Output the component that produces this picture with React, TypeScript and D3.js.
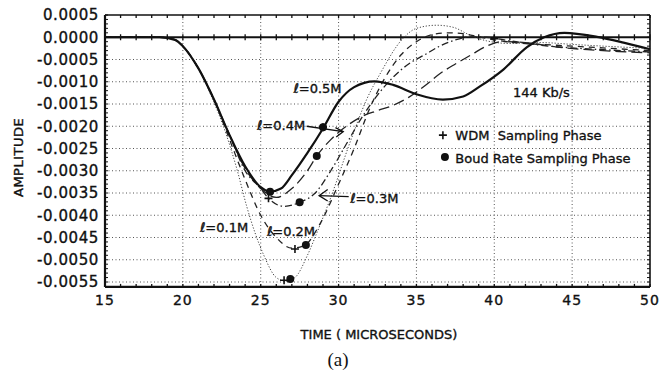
import * as d3 from 'd3'

// amplitude responses, [time (us), amplitude]
const l01: [number, number][] = [[15,0],[18.5,0],[19.5,-0.00006],[20,-0.0002],[21,-0.0007],[21.8,-0.0013],[22.8,-0.0022],[23.5,-0.003],[24.1,-0.0038],[25.2,-0.0049],[26,-0.0054],[26.6,-0.00548],[27.2,-0.0054],[28,-0.0049],[28.6,-0.0044],[29.5,-0.0036],[30.8,-0.0023],[31.8,-0.0014],[32.7,-0.0008],[34.1,-0.00004],[35,0.0002],[36.3,0.00027],[37.4,0.00022],[38.3,0.00007],[39.5,-0.00008],[41,-0.00014],[43,-0.00012],[45,-0.00016],[47,-0.0002],[50,-0.00025]]
const l02: [number, number][] = [[15,0],[18.5,0],[19.5,-0.00006],[20,-0.0002],[21,-0.0007],[22,-0.0014],[23,-0.0023],[24,-0.0032],[25,-0.004],[26,-0.0045],[27,-0.00474],[27.8,-0.00468],[28.8,-0.0042],[30,-0.0033],[31,-0.0025],[32,-0.0016],[33,-0.0009],[34,-0.0004],[35,-0.0001],[36,0.00006],[37,0.0001],[38,0.00008],[39,0.00001],[40,-0.00006],[42,-0.00014],[44,-0.00018],[46,-0.00022],[48,-0.00026],[50,-0.0003]]
const l03: [number, number][] = [[15,0],[18.5,0],[19.5,-0.00005],[20,-0.0002],[21,-0.0007],[22,-0.0014],[23,-0.0022],[24,-0.003],[25,-0.0034],[25.5,-0.00362],[26.5,-0.0038],[27.5,-0.00371],[28.5,-0.0035],[29.5,-0.003],[30.5,-0.0024],[31.5,-0.0018],[32.5,-0.0013],[33.5,-0.0009],[34.5,-0.0006],[35.5,-0.0004],[36.5,-0.0002],[37.5,-0.00006],[38.5,0.00001],[39.5,0],[41,-0.00008],[43,-0.00018],[45,-0.00024],[47,-0.00028],[50,-0.00033]]
const l04: [number, number][] = [[15,0],[18.5,0],[19.5,-0.00005],[20,-0.0002],[21,-0.0007],[22,-0.0014],[23,-0.0022],[24,-0.00295],[25,-0.0034],[26,-0.0036],[27,-0.0034],[28,-0.003],[28.6,-0.00267],[29.5,-0.0023],[30.5,-0.002],[31.5,-0.00178],[32.5,-0.00165],[33.5,-0.00153],[34.5,-0.00135],[35.5,-0.0011],[36.5,-0.00082],[37.5,-0.0006],[38.5,-0.0004],[39.5,-0.0002],[40.5,-0.0001],[42,-0.00012],[44,-0.00022],[46,-0.00028],[48,-0.00032],[50,-0.00035]]
const l05: [number, number][] = [[15,0],[18.5,0],[19.5,-0.00006],[20,-0.0002],[21,-0.0007],[22,-0.0014],[23,-0.0022],[24,-0.0029],[25,-0.00337],[25.6,-0.00347],[26.3,-0.0034],[27,-0.0031],[28,-0.0026],[29,-0.00205],[30,-0.00145],[31,-0.00112],[32.3,-0.00099],[33.5,-0.00107],[35,-0.00128],[36.7,-0.0014],[38,-0.00133],[39.1,-0.0011],[40.6,-0.00072],[42.1,-0.00022],[43.2,0],[44.5,0.0001],[46.6,0.00001],[48.3,-0.00012],[50,-0.00027]]

// sampling phase markers
const wdmPts: [number, number][] = [[25.5,-0.00362],[27.2,-0.00476],[26.5,-0.00546],[29.0,-0.00202],[40,-0.00003]]
const baudPts: [number, number][] = [[25.6,-0.00347],[28.6,-0.00267],[27.5,-0.00371],[27.9,-0.00467],[26.9,-0.00543],[29.0,-0.00202]]

const xTicks = [15, 20, 25, 30, 35, 40, 45, 50]
const yTicks = [0.0005, 0, -0.0005, -0.001, -0.0015, -0.002, -0.0025, -0.003, -0.0035, -0.004, -0.0045, -0.005, -0.0055]
const yLabels = ['0.0005', '0.0000', '-0.0005', '-0.0010', '-0.0015', '-0.0020', '-0.0025', '-0.0030', '-0.0035', '-0.0040', '-0.0045', '-0.0050', '-0.0055']

const W = 661, H = 379
const FONT = '"DejaVu Sans", sans-serif'

export default function App() {
  const x = d3.scaleLinear().domain([15, 50]).range([105, 650])
  const y = d3.scaleLinear().domain([-0.0055, 0.0005]).range([282, 15])
  const yBot = y(-0.00561)
  const line = d3.line<[number, number]>().x(d => x(d[0])).y(d => y(d[1])).curve(d3.curveMonotoneX)

  const minorX = d3.range(15, 51, 1)
  const minorY = d3.range(-55, 6, 1).map(v => v / 10000)

  const series = [
    { d: l01, w: 1, dash: '1.2,1.8', c: '#444' },
    { d: l02, w: 1.3, dash: '6,5', c: '#222' },
    { d: l03, w: 1.3, dash: '7,3,1.5,3', c: '#222' },
    { d: l04, w: 1.3, dash: '11,5', c: '#222' },
    { d: l05, w: 2.2, dash: undefined, c: '#111' },
  ]

  // text is a bit heavy in the scan
  const ink = { fill: '#111', stroke: '#111', strokeWidth: 0.35 }
  const lab = { fontFamily: FONT, fontSize: 13, ...ink }

  return (
    <svg width={W} height={H} style={{ position: 'absolute', left: 0, top: 0, background: '#fff' }}>
      {/* grid */}
      {xTicks.slice(1, -1).map(t => (
        <line key={'gx' + t} x1={x(t)} x2={x(t)} y1={y(0.0005)} y2={yBot} stroke="#555" strokeWidth={1} strokeDasharray="1,2.5" />
      ))}
      {yTicks.slice(2).map(v => (
        <line key={'gy' + v} x1={x(15)} x2={x(50)} y1={y(v)} y2={y(v)} stroke="#555" strokeWidth={1} strokeDasharray="1,2.5" />
      ))}

      {/* frame */}
      <line x1={x(15)} x2={x(50)} y1={y(0.0005)} y2={y(0.0005)} stroke="#111" strokeWidth={1.6} />
      <line x1={x(15)} x2={x(50)} y1={yBot} y2={yBot} stroke="#111" strokeWidth={2.2} />
      <line x1={x(15)} x2={x(15)} y1={y(0.0005)} y2={yBot} stroke="#111" strokeWidth={2.2} />
      <line x1={x(50)} x2={x(50)} y1={y(0.0005)} y2={yBot} stroke="#111" strokeWidth={1.6} />
      <line x1={x(15)} x2={x(50)} y1={y(0)} y2={y(0)} stroke="#111" strokeWidth={2} />

      {/* minor ticks */}
      {minorX.map(t => (
        <g key={'mx' + t} stroke="#111" strokeWidth={1.3}>
          <line x1={x(t)} x2={x(t)} y1={y(0.0005)} y2={y(0.0005) + 3} />
          <line x1={x(t)} x2={x(t)} y1={y(0) - 3} y2={y(0) + 3} />
          <line x1={x(t)} x2={x(t)} y1={yBot} y2={yBot - 3} />
        </g>
      ))}
      {minorY.map(v => (
        <g key={'my' + v} stroke="#111" strokeWidth={1}>
          <line x1={x(15)} x2={x(15) + 3} y1={y(v)} y2={y(v)} />
          <line x1={x(50)} x2={x(50) - 3} y1={y(v)} y2={y(v)} />
        </g>
      ))}

      {/* curves */}
      {series.map((s, i) => (
        <path key={'s' + i} d={line(s.d) ?? ''} fill="none" stroke={s.c} strokeWidth={s.w} strokeDasharray={s.dash} />
      ))}

      {/* markers */}
      {baudPts.map((p, i) => (
        <circle key={'b' + i} cx={x(p[0])} cy={y(p[1])} r={4} fill="#111" />
      ))}
      {wdmPts.map((p, i) => (
        <path key={'w' + i} d={`M${x(p[0]) - 4},${y(p[1])}h8M${x(p[0])},${y(p[1]) - 4}v8`} stroke="#111" strokeWidth={1.6} />
      ))}

      {/* y tick labels */}
      {yTicks.map((v, i) => (
        <text key={'yl' + v} x={99} y={y(v)} dy="0.36em" textAnchor="end" fontFamily={FONT} fontSize={15} letterSpacing={0.6} {...ink}>{yLabels[i]}</text>
      ))}
      {/* x tick labels */}
      {xTicks.map(t => (
        <text key={'xl' + t} x={x(t)} y={305} textAnchor="middle" fontFamily={FONT} fontSize={14} letterSpacing={1} {...ink}>{t}</text>
      ))}

      {/* axis titles */}
      <text transform={`translate(23,${y(-0.0027)}) rotate(-90)`} textAnchor="middle" fontFamily={FONT} fontSize={13} letterSpacing={0.5} {...ink}>AMPLITUDE</text>
      <text x={379} y={339} textAnchor="middle" fontFamily={FONT} fontSize={13} {...ink}>TIME ( MICROSECONDS)</text>
      <text x={338} y={366} textAnchor="middle" fontFamily='"Liberation Serif", serif' fontSize={19} fill="#111">(a)</text>

      {/* curve labels */}
      <text x={x(27.1)} y={y(-0.00125)} {...lab}>ℓ=0.5M</text>
      <text x={x(24.76)} y={y(-0.00208)} {...lab}>ℓ=0.4M</text>
      <text x={x(30.75)} y={y(-0.00372)} {...lab}>ℓ=0.3M</text>
      <text x={x(21.1)} y={y(-0.00438)} {...lab}>ℓ=0.1M</text>
      <text x={x(25.4)} y={y(-0.00447)} {...lab}>ℓ=0.2M</text>
      <text x={x(41.2)} y={y(-0.00134)} {...lab}>144 Kb/s</text>

      {/* pointers */}
      <path d={`M${x(27.95)},${y(-0.002)}L${x(30.3)},${y(-0.00212)}`} stroke="#111" strokeWidth={1.3} fill="none" />
      <path d={`M${x(29.8)},${y(-0.00203)}L${x(30.3)},${y(-0.00212)}L${x(29.85)},${y(-0.00224)}`} stroke="#111" strokeWidth={1.3} fill="none" />
      <path d={`M${x(30.65)},${y(-0.00358)}L${x(28.75)},${y(-0.00356)}`} stroke="#111" strokeWidth={1.3} fill="none" />
      <path d={`M${x(29.3)},${y(-0.00342)}L${x(28.75)},${y(-0.00356)}L${x(29.3)},${y(-0.00368)}`} stroke="#111" strokeWidth={1.3} fill="none" />

      {/* legend */}
      <path d={`M${x(36.7) - 4},${y(-0.0022)}h8M${x(36.7)},${y(-0.0022) - 4}v8`} stroke="#111" strokeWidth={1.6} />
      <text x={x(37.5)} y={y(-0.00231)} {...lab} style={{ whiteSpace: 'pre' }}>WDM  Sampling Phase</text>
      <circle cx={x(36.83)} cy={y(-0.00269)} r={4} fill="#111" />
      <text x={x(37.5)} y={y(-0.00283)} {...lab}>Boud Rate Sampling Phase</text>
    </svg>
  )
}
